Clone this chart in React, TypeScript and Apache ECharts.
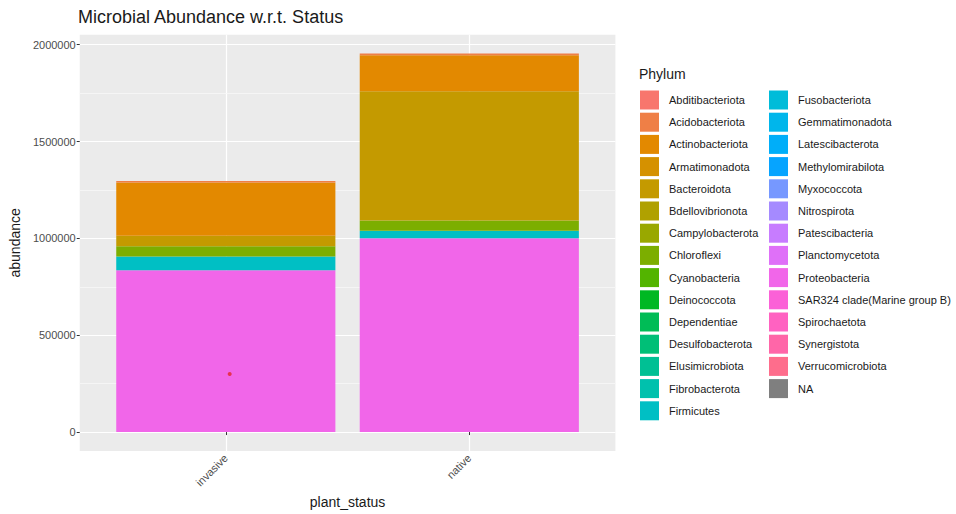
import React, { useEffect, useRef } from "react";
import * as echarts from "echarts";

const chartTitle = "Microbial Abundance w.r.t. Status";
const xTitle = "plant_status";
const yTitle = "abundance";
const legendTitle = "Phylum";

const categories = ["invasive", "native"];

const phyla = [
  "Abditibacteriota",
  "Acidobacteriota",
  "Actinobacteriota",
  "Armatimonadota",
  "Bacteroidota",
  "Bdellovibrionota",
  "Campylobacterota",
  "Chloroflexi",
  "Cyanobacteria",
  "Deinococcota",
  "Dependentiae",
  "Desulfobacterota",
  "Elusimicrobiota",
  "Fibrobacterota",
  "Firmicutes",
  "Fusobacteriota",
  "Gemmatimonadota",
  "Latescibacterota",
  "Methylomirabilota",
  "Myxococcota",
  "Nitrospirota",
  "Patescibacteria",
  "Planctomycetota",
  "Proteobacteria",
  "SAR324 clade(Marine group B)",
  "Spirochaetota",
  "Synergistota",
  "Verrucomicrobiota",
  "NA",
];

// abundance per phylum, same order as phyla
const invasiveValues = [
  0, 8000, 275000, 0, 53000, 0, 0, 54000, 0, 0, 0, 0, 0, 0, 70000,
  0, 0, 0, 0, 0, 0, 0, 0, 836000, 0, 0, 0, 0, 0,
];
const nativeValues = [
  0, 8000, 186000, 0, 668000, 0, 0, 53000, 0, 0, 0, 0, 0, 0, 38000,
  0, 0, 0, 0, 0, 0, 0, 0, 1001000, 0, 0, 0, 0, 0,
];

const yMajorTicks = [0, 500000, 1000000, 1500000, 2000000];
const yMinorTicks = [250000, 750000, 1250000, 1750000];
const strayDot = [[1.016, 300000]];

// ggplot2 default hue palette (HCL, c=100, l=65)
function hclHex(h: number, c = 100, l = 65): string {
  const hr = (h * Math.PI) / 180;
  const U = c * Math.cos(hr);
  const V = c * Math.sin(hr);
  const Xn = 95.047, Yn = 100, Zn = 108.883;
  const den = Xn + 15 * Yn + 3 * Zn;
  const un = (4 * Xn) / den, vn = (9 * Yn) / den;
  const Y = l > 8 ? Yn * Math.pow((l + 16) / 116, 3) : (Yn * l) / 903.3;
  const u = U / (13 * l) + un;
  const v = V / (13 * l) + vn;
  const X = (9 * Y * u) / (4 * v);
  const Z = (Y * (12 - 3 * u - 20 * v)) / (4 * v);
  const x = X / 100, y = Y / 100, z = Z / 100;
  const lin = [
    3.240479 * x - 1.53715 * y - 0.498535 * z,
    -0.969256 * x + 1.875992 * y + 0.041556 * z,
    0.055648 * x - 0.204043 * y + 1.057311 * z,
  ];
  const g = lin.map((t) => {
    const s = t <= 0.0031308 ? 12.92 * t : 1.055 * Math.pow(t, 1 / 2.4) - 0.055;
    const k = Math.round(Math.min(1, Math.max(0, s)) * 255);
    return k.toString(16).padStart(2, "0");
  });
  return "#" + g.join("");
}

const named = phyla.filter((p) => p !== "NA");
const colors = phyla.map((p, i) =>
  p === "NA" ? "#7F7F7F" : hclHex(15 + (i * 360) / named.length)
);

const FONT = "'Liberation Sans', Arial, Helvetica, sans-serif";
const BAR_WIDTH = 0.9; // in category units, as in ggplot

export default function App() {
  const ref = useRef<HTMLDivElement>(null);

  useEffect(() => {
    if (!ref.current) return;
    const chart = echarts.init(ref.current, undefined, { renderer: "svg" });

    const gLeft = 78.6, gRight = 340.6, gTop = 34.7, gBottom = 59.7;
    const xMin = 0.4, xMax = categories.length + 0.6;

    const valuesByCat = [invasiveValues, nativeValues];
    const totals = valuesByCat.map((vals) => vals.reduce((a, b) => a + b, 0));
    const maxTotal = Math.max(...totals);
    const yMin = -0.05 * maxTotal;
    const yMax = 1.05 * maxTotal;

    // ggplot stacks the first level on top: accumulate from the last level upward
    const order = phyla.map((_, i) => i).reverse();
    const running = categories.map(() => 0);
    const stackRows: Record<number, number[][]> = {};
    order.forEach((i) => {
      stackRows[i] = categories.map((_, ci) => {
        const base = running[ci];
        const top = base + valuesByCat[ci][i];
        running[ci] = top;
        return [ci + 1, base, top];
      });
    });

    const renderBar = (params: any, api: any) => {
      const x = api.value(0);
      const b = api.value(1);
      const t = api.value(2);
      if (!(t > b)) return null;
      const p1 = api.coord([x - BAR_WIDTH / 2, t]);
      const p2 = api.coord([x + BAR_WIDTH / 2, b]);
      return {
        type: "rect",
        shape: { x: p1[0], y: p1[1], width: p2[0] - p1[0], height: p2[1] - p1[1] },
        style: { fill: api.visual("color") },
      };
    };

    const barSeries = order.map((i) => ({
      type: "custom",
      name: phyla[i],
      xAxisIndex: 0,
      yAxisIndex: 0,
      renderItem: renderBar,
      encode: { x: 0, y: [1, 2] },
      itemStyle: { color: colors[i] },
      silent: true,
      z: 10,
      data: stackRows[i],
    }));

    const legendCommon = {
      orient: "vertical",
      top: 90.5,
      padding: 0,
      icon: "rect",
      itemWidth: 19,
      itemHeight: 19,
      itemGap: 3.2,
      selectedMode: false,
      itemStyle: { borderWidth: 0 },
      textStyle: {
        fontSize: 11,
        color: "#1A1A1A",
        fontFamily: FONT,
        padding: [0, 0, 0, 5],
      },
    };

    chart.setOption({
      animation: false,
      textStyle: { fontFamily: FONT },
      title: [
        {
          text: chartTitle,
          left: 78,
          top: 8,
          padding: 0,
          textStyle: { fontSize: 18, fontWeight: "normal", color: "#1A1A1A", fontFamily: FONT },
        },
        {
          text: legendTitle,
          left: 639,
          top: 67,
          padding: 0,
          textStyle: { fontSize: 14, fontWeight: "normal", color: "#1A1A1A", fontFamily: FONT },
        },
      ],
      legend: [
        { ...legendCommon, left: 640, data: phyla.slice(0, 15) },
        { ...legendCommon, left: 769, data: phyla.slice(15) },
      ],
      grid: {
        left: gLeft,
        right: gRight,
        top: gTop,
        bottom: gBottom,
        show: true,
        backgroundColor: "#EBEBEB",
        borderWidth: 0,
      },
      xAxis: {
        type: "value",
        min: xMin,
        max: xMax,
        name: xTitle,
        nameLocation: "middle",
        nameGap: 44,
        nameTextStyle: { fontSize: 14, color: "#1A1A1A", fontFamily: FONT },
        axisLine: { show: false },
        axisTick: {
          show: true,
          length: 3,
          lineStyle: { color: "#333333", width: 1 },
          customValues: categories.map((_, i) => i + 1),
        },
        axisLabel: {
          rotate: 45,
          margin: 5,
          fontSize: 11,
          color: "#4D4D4D",
          fontFamily: FONT,
          customValues: categories.map((_, i) => i + 1),
          formatter: (v: number) => categories[Math.round(v) - 1] ?? "",
        },
        splitLine: { show: true, lineStyle: { color: "#FFFFFF", width: 1.2 } },
      },
      yAxis: {
        type: "value",
        min: yMin,
        max: yMax,
        name: yTitle,
        nameLocation: "middle",
        nameGap: 52,
        nameTextStyle: { fontSize: 14, color: "#1A1A1A", fontFamily: FONT },
        axisLine: { show: false },
        axisTick: {
          show: true,
          length: 3,
          lineStyle: { color: "#333333", width: 1 },
          customValues: yMajorTicks,
        },
        axisLabel: {
          margin: 4,
          fontSize: 11,
          color: "#4D4D4D",
          fontFamily: FONT,
          customValues: yMajorTicks,
          formatter: (v: number) => String(Math.round(v)),
        },
        splitLine: { show: true, lineStyle: { color: "#FFFFFF", width: 1.2 } },
      },
      series: [
        {
          type: "line",
          name: "minor-grid",
          data: [],
          silent: true,
          z: 1,
          markLine: {
            z: 1,
            silent: true,
            symbol: "none",
            label: { show: false },
            lineStyle: { color: "#F7F7F7", width: 0.8, type: "solid" },
            emphasis: { disabled: true },
            data: yMinorTicks.map((v) => ({ yAxis: v })),
          },
        },
        ...barSeries,
        {
          type: "scatter",
          name: "marker",
          symbolSize: 4,
          itemStyle: { color: "#E3262B" },
          silent: true,
          z: 20,
          data: strayDot,
        },
      ],
    });

    return () => chart.dispose();
  }, []);

  return (
    <div
      ref={ref}
      style={{ position: "absolute", left: 0, top: 0, width: 956, height: 514 }}
    />
  );
}
